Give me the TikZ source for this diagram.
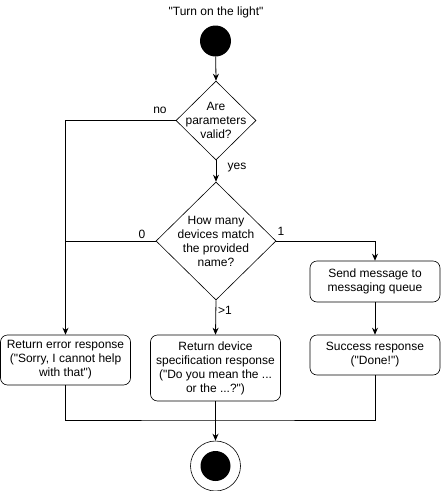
\documentclass[tikz,border=0pt]{standalone}
\usepackage{fontspec}
\setmainfont{Liberation Sans}[Ligatures=TeXOff]
\usetikzlibrary{shapes.geometric,arrows.meta}
\begin{document}
\begin{tikzpicture}[x=1pt,y=-1pt,
  every node/.style={font=\fontsize{12}{14}\selectfont},
  arr/.style={-{Stealth[length=7pt,width=6pt]}, line width=0.8pt},
  ln/.style={line width=0.8pt},
  actbox/.style={draw, line width=0.6pt, rounded corners=7pt, minimum width=130pt, align=center, inner sep=2pt},
  dec/.style={draw, diamond, line width=0.6pt, inner sep=0pt},
  lbl/.style={inner sep=1pt}]
\useasboundingbox (0,0) rectangle (441,491);
\node (title) at (216,12) {"Turn on the light"};
\node[circle, fill=black, minimum size=31pt, inner sep=0pt] (start) at (215.5,41) {};
\node[dec, minimum width=80pt, minimum height=79pt] (d1) at (216,120.5) {};
\node[align=center] (d1t) at (d1) {Are\\parameters\\valid?};
\node[dec, minimum width=120pt, minimum height=118pt] (d2) at (216,241) {};
\node[align=center] (d2t) at (d2) {How many\\devices match\\the provided\\name?};
\node[actbox, minimum height=50pt] (err) at (65.5,360) {Return error response\\("Sorry, I cannot help\\with that")};
\node[actbox, minimum height=66pt] (spec) at (215.5,368) {Return device\\specification response\\("Do you mean the ...\\or the ...?")};
\node[actbox, minimum height=41pt] (send) at (375,281.5) {Send message to\\messaging queue};
\node[actbox, minimum height=40pt] (succ) at (375,355) {Success response\\("Done!")};
\node[circle, draw, line width=0.6pt, minimum size=50pt, inner sep=0pt] (endc) at (215.5,466) {};
\node[circle, fill=black, minimum size=30pt, inner sep=0pt] (endi) at (endc) {};
\coordinate (merge) at (215.5,420);
\coordinate (j0) at (err.north |- d2.west);
% labels
\node[lbl] (lno) at (160,110) {no};
\node[lbl] (lyes) at (237,168) {yes};
\node[lbl] (l0) at (142,234) {0};
\node[lbl] (l1) at (281,231) {1};
\node[lbl] (lgt) at (225,310) {>1};
% connectors
\draw[arr] (start) -- (d1.north);
\draw[arr] (d1.west) -| (err.north);
\draw[arr] (d1.south) -- (d2.north);
\draw[ln] (d2.west) -- (j0);
\draw[arr] (d2.east) -| (send.north);
\draw[arr] (d2.south) -- (spec.north);
\draw[arr] (send) -- (succ);
\draw[ln] (err.south) |- (merge) -| (succ.south);
\draw[arr] (spec.south) -- (endc.north);
\end{tikzpicture}
\end{document}
